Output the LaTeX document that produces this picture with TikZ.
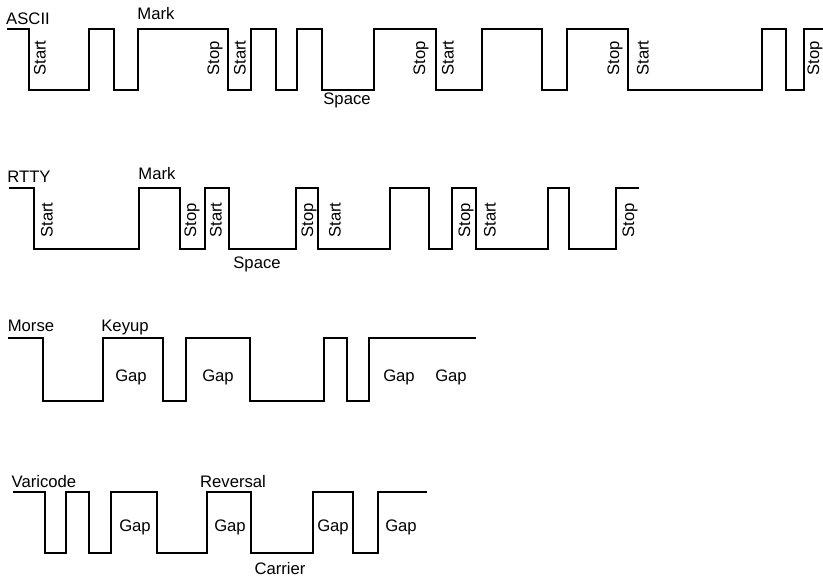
\documentclass[tikz,border=0pt]{standalone}
\usepackage{fontspec}
\setmainfont{Liberation Sans}
\usetikzlibrary{positioning}

\tikzset{
  wave/.style={line width=1.4pt, line join=miter},
  lbl/.style={inner sep=0pt, font=\fontsize{12.5}{14}\selectfont},
  bitlbl/.style={lbl, rotate=90, anchor=west},
}

\begin{document}
\begin{tikzpicture}[x=0.75pt, y=-0.75pt]
    \useasboundingbox (0,0) rectangle (823,582);

    % ASCII
    \draw[wave] (7,29) -| (29,90) -| (89,29) -| (114,90) -| (138,29) -| (228,90) -| (251,29) -| (276,90) -| (297,29) -| (322,90) -| (374,29) -| (436,90) -| (482,29) -| (542,90) -| (567,29) -| (628,90) -| (762,29) -| (786,90) -| (804,29) -- (823,29);
    \node[lbl] (asciiname) at (28,18.5) {ASCII};
    \node[lbl] (asciimark) at (156,14) {Mark};
    \node[lbl] (asciispace) at (347,100) {Space};
    \node[bitlbl] (asciistart1) at (40,76) {Start};
    \node[bitlbl] (asciistop1) at (215,76) {Stop};
    \node[bitlbl] (asciistart2) at (240,76) {Start};
    \node[bitlbl] (asciistop2) at (421,76) {Stop};
    \node[bitlbl] (asciistart3) at (448,76) {Start};
    \node[bitlbl] (asciistop3) at (615,76) {Stop};
    \node[bitlbl] (asciistart4) at (643,76) {Start};
    \node[bitlbl] (asciistop4) at (815,76) {Stop};

    % RTTY
    \draw[wave] (9,188) -| (34,249) -| (139,188) -| (180,249) -| (205,188) -| (229,249) -| (296,188) -| (318,249) -| (390,188) -| (429,249) -| (452,188) -| (476,249) -| (548,188) -| (569,249) -| (616,188) -- (639,188);
    \node[lbl] (rttyname) at (29,177) {RTTY};
    \node[lbl] (rttymark) at (157,174) {Mark};
    \node[lbl] (rttyspace) at (257,264) {Space};
    \node[bitlbl] (rttystart1) at (47,238) {Start};
    \node[bitlbl] (rttystop1) at (192,238) {Stop};
    \node[bitlbl] (rttystart2) at (216,238) {Start};
    \node[bitlbl] (rttystop2) at (309,238) {Stop};
    \node[bitlbl] (rttystart3) at (335,238) {Start};
    \node[bitlbl] (rttystop3) at (466,238) {Stop};
    \node[bitlbl] (rttystart4) at (490,238) {Start};
    \node[bitlbl] (rttystop4) at (630,238) {Stop};

    % Morse
    \draw[wave] (8,338) -| (43,401) -| (103,338) -| (163,401) -| (186,338) -| (250,401) -| (324,338) -| (347,401) -| (369,338) -- (476,338);
    \node[lbl] (morsename) at (31,326) {Morse};
    \node[lbl] (morsekeyup) at (125,327) {Keyup};
    \node[lbl] (morsegap1) at (131,377) {Gap};
    \node[lbl] (morsegap2) at (218,377) {Gap};
    \node[lbl] (morsegap3) at (399,377) {Gap};
    \node[lbl] (morsegap4) at (451,377) {Gap};

    % Varicode
    \draw[wave] (13,492) -| (45,553) -| (66,492) -| (89,553) -| (111,492) -| (157,553) -| (207,492) -| (251,553) -| (313,492) -| (353,553) -| (378,492) -- (427,492);
    \node[lbl] (variname) at (44,482) {Varicode};
    \node[lbl] (varireversal) at (233,482) {Reversal};
    \node[lbl] (varicarrier) at (280,569) {Carrier};
    \node[lbl] (varigap1) at (135,527) {Gap};
    \node[lbl] (varigap2) at (230,527) {Gap};
    \node[lbl] (varigap3) at (333,527) {Gap};
    \node[lbl] (varigap4) at (401,527) {Gap};
\end{tikzpicture}
\end{document}
